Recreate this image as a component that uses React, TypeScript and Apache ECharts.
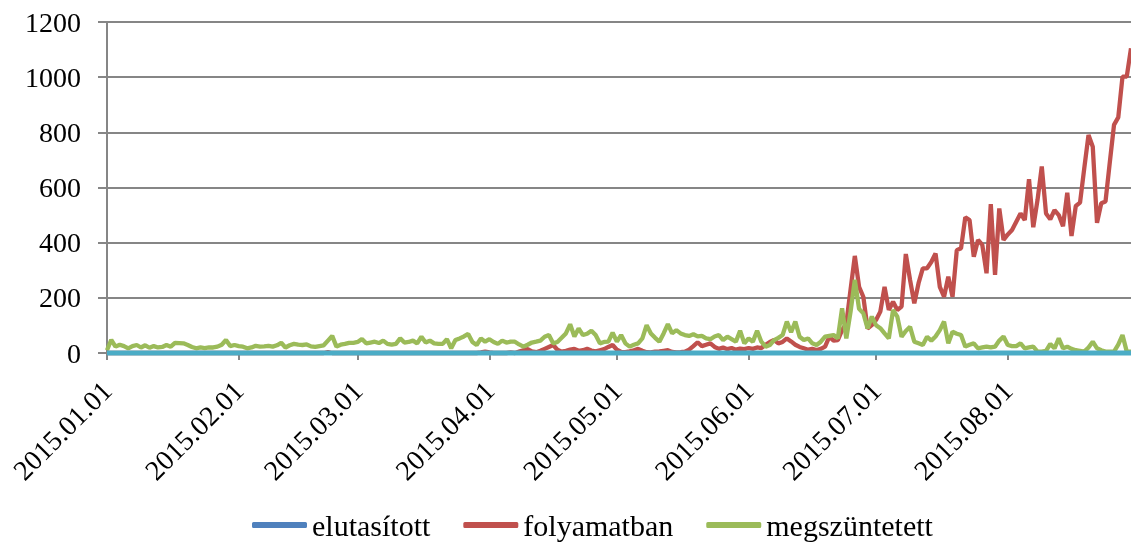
import React, { useEffect, useRef } from "react";
import * as echarts from "echarts";

// Daily categories 2015.01.01 .. 2015.08.30
const START = Date.UTC(2015, 0, 1);
const DAY_COUNT = 242;
const pad = (n: number) => (n < 10 ? "0" + n : "" + n);
const dates: string[] = [];
for (let i = 0; i < DAY_COUNT; i++) {
  const d = new Date(START + i * 86400000);
  dates.push(`${d.getUTCFullYear()}.${pad(d.getUTCMonth() + 1)}.${pad(d.getUTCDate())}`);
}

const legendNames = ["elutasított", "folyamatban", "megszüntetett"];

const elutasitott = [
  0,0,0,0,0,0,0,0,0,0, 0,0,0,0,0,0,0,0,0,0, 0,0,0,0,0,0,0,0,0,0,
  0,0,0,0,0,0,0,0,0,0, 0,0,0,0,0,0,0,0,0,0, 0,0,0,0,0,0,0,0,0,0,
  0,0,0,0,0,0,0,0,0,0, 0,0,0,0,0,0,0,0,0,0, 0,0,0,0,0,0,0,0,0,0,
  0,0,0,0,0,0,0,0,0,0, 0,0,0,0,0,0,0,0,0,0, 0,0,0,0,0,0,0,0,0,0,
  0,0,0,0,0,0,0,0,0,0, 0,0,0,0,0,0,0,0,0,0, 0,0,0,0,0,0,0,0,0,0,
  0,0,0,0,0,0,0,0,0,0, 0,0,0,0,0,0,0,0,0,0, 0,0,0,0,0,0,0,0,0,0,
  0,0,0,0,0,0,0,0,0,0, 0,0,0,0,0,0,0,0,0,0, 0,0,0,0,0,0,0,0,0,0,
  0,0,0,0,0,0,0,0,0,0, 0,0,0,0,0,0,0,0,0,0, 0,0,0,0,0,0,0,0,0,0,
  0,0,
];

const folyamatban = [
  0,0,0,0,0,0,0,0,0,0,
  0,0,0,0,0,0,0,0,0,0,
  0,0,0,0,0,0,0,0,0,0,
  0,0,0,0,0,0,0,0,0,0,
  0,0,0,0,0,0,0,0,0,0,
  0,0,3,0,0,0,0,0,0,0,
  0,0,0,0,0,0,0,0,0,0,
  0,0,0,0,0,0,0,0,0,0,
  0,0,0,0,0,0,0,0,2,5,
  2,0,0,0,0,2,0,5,10,14,
  6,3,8,15,22,29,12,5,8,12,
  15,8,10,15,9,6,10,14,22,29,
  12,4,3,6,10,15,8,3,2,5,
  6,8,10,4,2,3,5,12,25,39,
  25,30,35,22,15,20,14,18,12,16,
  14,18,15,20,18,30,40,47,35,40,
  53,42,30,22,17,12,15,11,15,23,
  59,45,47,83,107,230,352,240,204,89,
  101,120,150,240,156,186,156,168,359,265,
  180,253,307,307,330,361,240,204,277,204,
  373,380,492,482,349,410,392,289,540,283,
  524,410,430,446,476,506,482,630,456,555,
  676,506,485,518,500,460,581,424,533,545,
  670,790,748,472,543,549,690,827,854,1002,
  1002,1105,
];

const megszuntetett = [
  10,48,23,30,25,17,25,29,20,28,
  19,25,20,22,29,23,37,36,35,29,
  22,17,20,18,20,20,23,30,47,25,
  29,25,23,17,20,26,23,24,26,23,
  28,37,20,28,33,30,29,31,24,22,
  25,28,45,62,23,30,33,37,37,40,
  51,35,38,41,36,45,33,30,33,53,
  38,40,45,35,59,38,45,35,33,33,
  50,17,47,53,60,69,40,29,53,41,
  50,40,33,45,38,41,41,31,23,30,
  38,41,45,59,65,35,40,55,71,104,
  60,89,65,70,81,65,35,40,41,74,
  41,65,35,23,30,35,53,101,71,55,
  41,71,105,71,83,71,65,62,68,60,
  62,53,50,60,65,47,59,50,41,81,
  35,53,41,81,41,23,29,47,55,65,
  114,75,114,59,47,53,35,29,41,59,
  62,65,53,162,53,150,265,160,144,89,
  132,101,90,71,53,156,132,59,80,95,
  41,35,29,59,45,60,83,114,35,77,
  70,65,23,30,35,17,20,23,20,23,
  45,60,29,25,25,35,17,20,23,5,
  5,8,33,17,53,17,23,15,10,8,
  5,20,41,17,10,5,5,5,30,65,
  5,5,
];

// baseline (teal) series lying on zero, not in legend
const baseline = elutasitott.slice();

const yTicks = { min: 0, max: 1200, interval: 200 };

const FONT = "'Liberation Serif', 'Times New Roman', serif";
const GRAY = "#868686";

export default function App() {
  const ref = useRef<HTMLDivElement>(null);
  useEffect(() => {
    if (!ref.current) return;
    const chart = echarts.init(ref.current, null, { renderer: "svg" });
    const isMonthStart = (_i: number, v: string) => v.endsWith(".01");
    chart.setOption({
      animation: false,
      grid: { left: 107, right: 0, top: 22, bottom: 189, containLabel: false },
      legend: {
        data: legendNames,
        left: 247,
        top: 505,
        icon: "roundRect",
        itemWidth: 55,
        itemHeight: 6,
        itemGap: 33,
        textStyle: { fontSize: 30, lineHeight: 30, fontFamily: FONT, color: "#000" },
      },
      xAxis: {
        type: "category",
        data: dates,
        boundaryGap: false,
        axisLine: { lineStyle: { color: GRAY, width: 2 } },
        axisTick: {
          show: true,
          interval: isMonthStart,
          length: 7,
          lineStyle: { color: GRAY, width: 2 },
        },
        axisLabel: {
          interval: isMonthStart,
          rotate: 45,
          fontSize: 28,
          fontFamily: FONT,
          color: "#000",
          margin: 33,
        },
        splitLine: { show: false },
      },
      yAxis: {
        type: "value",
        min: yTicks.min,
        max: yTicks.max,
        interval: yTicks.interval,
        axisLine: { show: true, lineStyle: { color: GRAY, width: 2 } },
        axisTick: { show: true, length: 9, lineStyle: { color: GRAY, width: 2 } },
        axisLabel: {
          fontSize: 28,
          fontFamily: FONT,
          color: "#000",
          margin: 26,
          formatter: (v: number) => String(v),
        },
        splitLine: { show: true, lineStyle: { color: GRAY, width: 2 } },
      },
      series: [
        {
          name: legendNames[0],
          type: "line",
          data: elutasitott,
          symbol: "none",
          clip: false,
          lineStyle: { color: "#4F81BD", width: 4 },
          itemStyle: { color: "#4F81BD" },
        },
        {
          name: legendNames[1],
          type: "line",
          data: folyamatban,
          symbol: "none",
          clip: false,
          lineStyle: { color: "#C0504D", width: 4.3 },
          itemStyle: { color: "#C0504D" },
        },
        {
          name: legendNames[2],
          type: "line",
          data: megszuntetett,
          symbol: "none",
          clip: false,
          lineStyle: { color: "#9BBB59", width: 4.3 },
          itemStyle: { color: "#9BBB59" },
        },
        {
          name: "alap",
          type: "line",
          data: baseline,
          symbol: "none",
          clip: false,
          lineStyle: { color: "#4BACC6", width: 5 },
          itemStyle: { color: "#4BACC6" },
        },
      ],
    });
    return () => chart.dispose();
  }, []);
  return (
    <div
      ref={ref}
      style={{ position: "fixed", left: 0, top: 0, width: 1131, height: 542 }}
    />
  );
}
